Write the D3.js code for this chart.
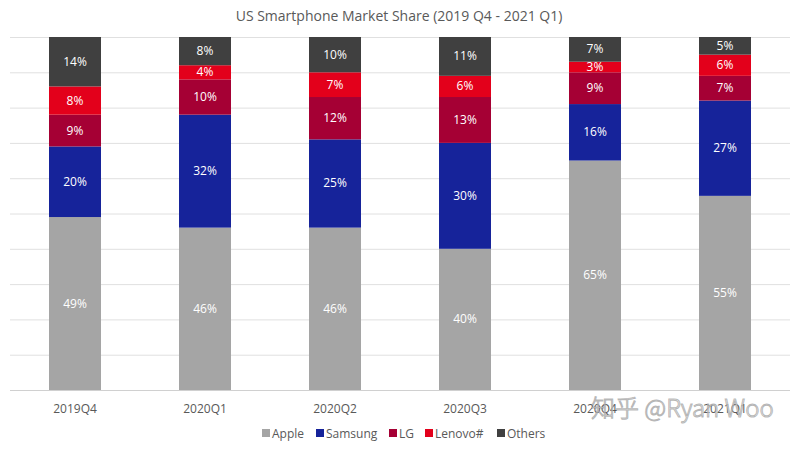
<!DOCTYPE html>
<html><head><meta charset="utf-8">
<script src="https://cdn.jsdelivr.net/npm/d3@7"></script>
<style>body{margin:0;background:#fff}svg{display:block}</style>
</head><body>
<script>
const categories = ["2019Q4","2020Q1","2020Q2","2020Q3","2020Q4","2021Q1"];
const seriesNames = ["Apple","Samsung","LG","Lenovo#","Others"];
const apple   = [49,46,46,40,65,55];
const samsung = [20,32,25,30,16,27];
const lg      = [9,10,12,13,9,7];
const lenovo  = [8,4,7,6,3,6];
const others  = [14,8,10,11,7,5];
const yTicks = [0,10,20,30,40,50,60,70,80,90,100];
const colors = ["#a5a5a5","#16239a","#a50034","#e3001b","#404040"];

const W=798,H=449;
const svg=d3.select("body").append("svg").attr("width",W).attr("height",H);
const font="'Open Sans', Calibri, sans-serif";
const x=d3.scaleBand().domain(categories).range([10,790]).paddingInner(0.6).paddingOuter(0.3);
const y=d3.scaleLinear().domain([0,100]).range([390,37]);

svg.append("text").attr("x",399).attr("y",21).attr("text-anchor","middle")
  .attr("font-family",font).attr("font-size",14).attr("fill","#595959")
  .text("US Smartphone Market Share (2019 Q4 - 2021 Q1)");

svg.append("g").selectAll("line").data(yTicks).join("line")
  .attr("x1",10).attr("x2",790).attr("y1",d=>y(d)+0.5).attr("y2",d=>y(d)+0.5)
  .attr("stroke",d=>d===0?"#d0d0d0":"#e0e0e0").attr("stroke-width",1);

const rows=categories.map((c,i)=>({cat:c,Apple:apple[i],Samsung:samsung[i],LG:lg[i],"Lenovo#":lenovo[i],Others:others[i]}));
const stacked=d3.stack().keys(seriesNames)(rows);

const g=svg.append("g");
stacked.forEach((s,si)=>{
  g.selectAll(null).data(s).join("rect")
    .attr("x",d=>x(d.data.cat)).attr("width",x.bandwidth())
    .attr("y",d=>y(d[1])).attr("height",d=>y(d[0])-y(d[1]))
    .attr("fill",colors[si]);
  g.selectAll(null).data(s).join("text")
    .attr("x",d=>x(d.data.cat)+x.bandwidth()/2)
    .attr("y",d=>(y(d[0])+y(d[1]))/2+4)
    .attr("text-anchor","middle").attr("font-family",font).attr("font-size",12)
    .attr("fill","#ffffff")
    .text(d=>(d[1]-d[0])+"%");
});

const xAxis=svg.append("g").attr("transform","translate(0,390)")
  .call(d3.axisBottom(x).tickSize(0).tickPadding(14));
xAxis.select(".domain").remove();
xAxis.selectAll("text").attr("font-family",font).attr("font-size",12).attr("fill","#595959");

// legend
const legendX=[262,316,389,425,497];
const lg2=svg.append("g");
seriesNames.forEach((n,i)=>{
  lg2.append("rect").attr("x",legendX[i]).attr("y",429).attr("width",8).attr("height",8).attr("fill",colors[i]);
  lg2.append("text").attr("x",legendX[i]+10).attr("y",437.5).attr("font-family",font).attr("font-size",12).attr("fill","#595959").text(n);
});

// watermark
svg.append("text").attr("x",591).attr("y",417).attr("font-family","'Noto Sans CJK SC', sans-serif")
  .attr("font-size",24).attr("font-weight",300).attr("fill","rgba(255,255,255,0.85)").attr("stroke","rgba(120,120,120,0.55)").attr("stroke-width",1)
  .text("知乎 @Ryan Woo");
</script>
</body></html>
